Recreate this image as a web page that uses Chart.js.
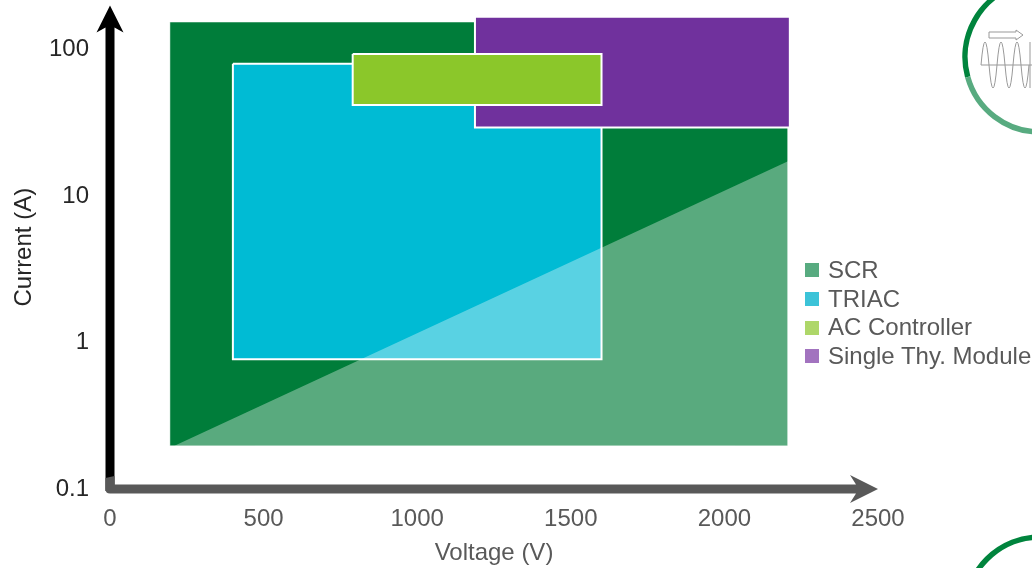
<!DOCTYPE html>
<html>
<head>
<meta charset="utf-8">
<title>Thyristor voltage and current ranges</title>
<script src="https://cdn.jsdelivr.net/npm/chart.js@4"></script>
<style>
  body { margin: 0; background: #fff; font-family: "Liberation Sans", Arial, sans-serif; }
  #wrap { position: relative; width: 1032px; height: 568px; overflow: hidden; }
  canvas { display: block; }
  #leyenda { position: absolute; left: 805px; top: 256px; font-size: 24px; line-height: 28.7px; color: #595959; white-space: nowrap; }
  #leyenda div { display: flex; align-items: center; }
  #leyenda span { width: 14px; height: 14px; margin-right: 9px; flex: none; }
</style>
</head>
<body>
<div id="wrap">
  <canvas id="grafico" width="1032" height="568"></canvas>
  <div id="leyenda"></div>
</div>
<script>
// Datos (voltaje en V, corriente en A)
const scrVoltage = [195, 2207, 2207, 195, 195];
const scrCurrent = [154, 154, 0.197, 0.197, 154];
const triacVoltage = [400, 1600, 1600, 400, 400];
const triacCurrent = [80, 80, 0.77, 0.77, 80];
const acVoltage = [790, 1600, 1600, 790, 790];
const acCurrent = [93, 93, 41.8, 41.8, 93];
const moduleVoltage = [1188, 2213, 2213, 1188, 1188];
const moduleCurrent = [167, 167, 29.4, 29.4, 167];
const overlayVoltage = [210, 2207, 2207, 195, 210];
const overlayCurrent = [0.197, 17.3, 0.197, 0.197, 0.197];

const xTicks = [0, 500, 1000, 1500, 2000, 2500];
const yTicks = [0.1, 1, 10, 100];

const legendNames = ["SCR", "TRIAC", "AC Controller", "Single Thy. Module"];
const legendColors = ["#58ab80", "#3cc3d8", "#aed769", "#a273bf"];

const zip = (xs, ys) => xs.map((x, i) => ({ x: x, y: ys[i] }));

// Cada rectangulo es una linea cerrada rellena
function region(label, xs, ys, color, border, width, order) {
  return {
    label: label,
    data: zip(xs, ys),
    showLine: true,
    fill: "shape",
    backgroundColor: color,
    borderColor: border,
    borderWidth: width,
    pointRadius: 0,
    tension: 0,
    order: order
  };
}

// Ejes con flecha y los adornos de la esquina derecha
const ejesFlecha = {
  id: "ejesFlecha",
  afterDraw(chart) {
    const ctx = chart.ctx;
    const x0 = chart.scales.x.left;
    const x1 = chart.scales.x.right;
    const y0 = chart.scales.y.bottom;
    const y1 = chart.scales.y.top;
    ctx.save();

    // eje Y
    ctx.fillStyle = "#000";
    ctx.beginPath();
    ctx.moveTo(x0 - 4.5, y0 + 2);
    ctx.lineTo(x0 - 4.5, y1 + 22);
    ctx.lineTo(x0 - 13.5, y1 + 27);
    ctx.lineTo(x0, y1);
    ctx.lineTo(x0 + 13.5, y1 + 27);
    ctx.lineTo(x0 + 4.5, y1 + 22);
    ctx.lineTo(x0 + 4.5, y0 + 2);
    ctx.closePath();
    ctx.fill();

    // eje X
    ctx.fillStyle = "#595959";
    ctx.beginPath();
    ctx.moveTo(x0 - 4.5, y0 - 11);
    ctx.lineTo(x0 + 4.5, y0 - 13);
    ctx.lineTo(x0 + 4.5, y0 - 4.5);
    ctx.lineTo(x1 - 22, y0 - 4.5);
    ctx.lineTo(x1 - 28, y0 - 14);
    ctx.lineTo(x1, y0);
    ctx.lineTo(x1 - 28, y0 + 14);
    ctx.lineTo(x1 - 22, y0 + 4.5);
    ctx.lineTo(x0, y0 + 4.5);
    ctx.quadraticCurveTo(x0 - 4.5, y0 + 4.5, x0 - 4.5, y0);
    ctx.closePath();
    ctx.fill();

    // circulos de la esquina
    ctx.lineWidth = 5.5;
    ctx.strokeStyle = "#00843d";
    ctx.beginPath();
    ctx.arc(1040, 57, 75, Math.PI - 0.27, Math.PI + 1.5);
    ctx.stroke();
    ctx.strokeStyle = "#58ab80";
    ctx.beginPath();
    ctx.arc(1040, 57, 75, Math.PI / 2, Math.PI - 0.27);
    ctx.stroke();
    ctx.strokeStyle = "#00843d";
    ctx.beginPath();
    ctx.arc(1040, 612, 75, Math.PI, Math.PI * 1.6);
    ctx.stroke();

    // icono de onda
    ctx.lineWidth = 1;
    ctx.strokeStyle = "#999";
    ctx.beginPath();
    ctx.moveTo(981, 65);
    ctx.lineTo(1032, 65);
    ctx.moveTo(1030, 42);
    ctx.lineTo(1030, 88);
    ctx.moveTo(981, 65);
    for (let i = 0; i < 6; i++) {
      const sx = 981 + i * 8;
      ctx.quadraticCurveTo(sx + 4, i % 2 ? 111 : 19, sx + 8, 65);
    }
    ctx.moveTo(989, 32);
    ctx.lineTo(1016, 32);
    ctx.lineTo(1016, 30);
    ctx.lineTo(1023, 35);
    ctx.lineTo(1016, 40);
    ctx.lineTo(1016, 38);
    ctx.lineTo(989, 38);
    ctx.closePath();
    ctx.stroke();
    ctx.restore();
  }
};

new Chart(document.getElementById("grafico"), {
  type: "scatter",
  data: {
    datasets: [
      region("SCR", scrVoltage, scrCurrent, "#007d3a", "rgba(255,255,255,0.5)", 1, 5),
      region("TRIAC", triacVoltage, triacCurrent, "#00bbd4", "#fff", 2, 4),
      region("Single Thy. Module", moduleVoltage, moduleCurrent, "#70319d", "#fff", 2, 3),
      region("AC Controller", acVoltage, acCurrent, "#8bc72a", "#fff", 2, 2),
      region("Overlay", overlayVoltage, overlayCurrent, "rgba(255,255,255,0.35)", "transparent", 0, 1)
    ]
  },
  plugins: [ejesFlecha],
  options: {
    responsive: false,
    animation: false,
    layout: { autoPadding: false, padding: { top: 5.4, right: 154, left: 0, bottom: 0 } },
    plugins: { legend: { display: false }, tooltip: { enabled: false } },
    scales: {
      x: {
        type: "linear",
        min: 0,
        max: 2500,
        afterBuildTicks: axis => { axis.ticks = xTicks.map(v => ({ value: v })); },
        afterFit: axis => { axis.height = 79; },
        grid: { display: false, drawTicks: false },
        border: { display: false },
        ticks: {
          color: "#595959",
          font: { size: 24, family: "Liberation Sans" },
          padding: 16,
          maxRotation: 0,
          callback: v => String(v)
        },
        title: {
          display: true,
          text: "Voltage (V)",
          color: "#595959",
          font: { size: 24, family: "Liberation Sans" },
          padding: { top: 0, bottom: 0 }
        }
      },
      y: {
        type: "logarithmic",
        min: 0.1,
        max: 200,
        afterBuildTicks: axis => { axis.ticks = yTicks.map(v => ({ value: v })); },
        // el padding de las etiquetas empuja el area hacia abajo si no se anula
        afterFit: axis => { axis.width = 110; axis.paddingTop = 0; axis.paddingBottom = 0; },
        grid: { display: false, drawTicks: false },
        border: { display: false },
        ticks: {
          color: "#262626",
          font: { size: 24, family: "Liberation Sans" },
          padding: 21,
          callback: v => String(v)
        },
        title: {
          display: true,
          text: "Current (A)",
          color: "#262626",
          font: { size: 24, family: "Liberation Sans" },
          padding: { top: 10, bottom: 0 }
        }
      }
    }
  }
});

// Leyenda
const leyenda = document.getElementById("leyenda");
legendNames.forEach((nombre, i) => {
  const fila = document.createElement("div");
  const cuadro = document.createElement("span");
  cuadro.style.background = legendColors[i];
  fila.appendChild(cuadro);
  fila.appendChild(document.createTextNode(nombre));
  leyenda.appendChild(fila);
});
</script>
</body>
</html>
